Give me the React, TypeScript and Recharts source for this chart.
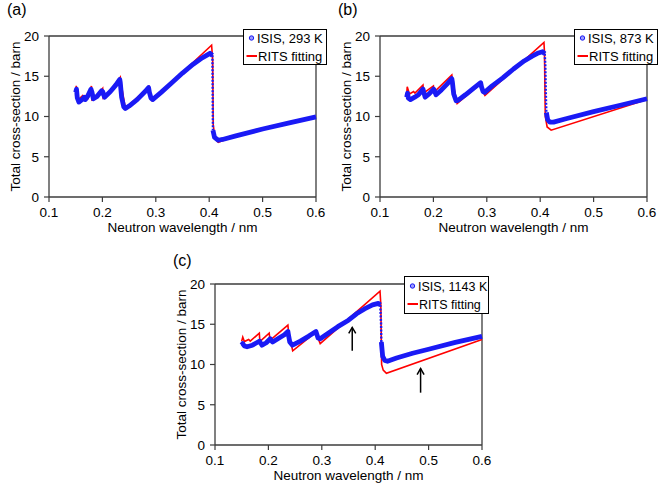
import { ComposedChart, Line, XAxis, YAxis, ReferenceLine, ReferenceDot } from 'recharts';

type Pt = [number, number];

const xTicks = [0.1, 0.2, 0.3, 0.4, 0.5, 0.6];
const yTicks = [0, 5, 10, 15, 20];
// top-left, top-right and bottom-right corners: closes the plot box
const frame: Pt[] = [[0.1, 20], [0.6, 20], [0.6, 0]];

// (a) 293 K — ISIS measurement (blue) and RITS fit (red), [wavelength nm, barn]
const isis293: Pt[] = [
  [0.15, 13.0], [0.1515, 13.4], [0.153, 12.3], [0.156, 11.8], [0.162, 12.1], [0.166, 12.4],
  [0.168, 12.1], [0.173, 12.6], [0.1785, 13.4], [0.1805, 13.0], [0.183, 12.2], [0.19, 12.5],
  [0.1985, 13.2], [0.2005, 13.1], [0.204, 12.4], [0.215, 13.1], [0.225, 13.9], [0.2325, 14.6],
  [0.2335, 14.2], [0.236, 12.4], [0.24, 11.2], [0.243, 11.0], [0.25, 11.3], [0.265, 12.1],
  [0.28, 13.1], [0.2865, 13.6], [0.288, 13.0], [0.291, 12.3], [0.294, 12.1], [0.31, 13.0],
  [0.33, 14.2], [0.35, 15.4], [0.37, 16.5], [0.385, 17.2], [0.395, 17.6], [0.4015, 17.85],
  [0.406, 17.6], [0.4065, 13.0], [0.407, 8.3], [0.41, 7.4], [0.417, 7.05], [0.425, 7.15],
  [0.45, 7.6], [0.5, 8.45], [0.55, 9.2], [0.6, 9.95],
];
const rits293: Pt[] = [
  [0.15, 12.6], [0.151, 13.8], [0.155, 12.1], [0.163, 12.6], [0.165, 12.3], [0.172, 12.8],
  [0.174, 12.4], [0.1795, 13.8], [0.1805, 12.1], [0.19, 12.6], [0.2005, 13.5], [0.2015, 12.3],
  [0.215, 13.2], [0.2335, 14.9], [0.2345, 14.3], [0.243, 11.0], [0.2875, 13.7], [0.2885, 13.0],
  [0.293, 12.0], [0.35, 15.5], [0.4045, 18.85], [0.4065, 17.0], [0.4075, 9.0], [0.411, 7.2],
  [0.417, 6.8], [0.45, 7.6], [0.5, 8.45], [0.55, 9.2], [0.6, 9.95],
];
const edge293: Pt = [0.406, 0.407];

// (b) 873 K
const isis873: Pt[] = [
  [0.15, 12.4], [0.1515, 12.9], [0.153, 12.3], [0.157, 12.1], [0.165, 12.4], [0.172, 12.7],
  [0.1805, 13.4], [0.182, 13.0], [0.1845, 12.4], [0.192, 12.8], [0.2005, 13.4], [0.202, 13.2],
  [0.205, 12.7], [0.215, 13.3], [0.225, 14.0], [0.2345, 14.7], [0.2355, 14.3], [0.238, 12.8],
  [0.2425, 11.95], [0.246, 12.0], [0.26, 12.7], [0.275, 13.5], [0.2885, 14.2], [0.29, 13.7],
  [0.293, 13.1], [0.296, 13.0], [0.31, 13.8], [0.33, 14.8], [0.35, 15.9], [0.37, 16.9],
  [0.385, 17.5], [0.395, 17.85], [0.4045, 18.05], [0.4085, 17.8], [0.4095, 16.5], [0.4105, 13.0],
  [0.4115, 10.5], [0.414, 9.6], [0.418, 9.3], [0.425, 9.3], [0.45, 9.75], [0.5, 10.6],
  [0.55, 11.4], [0.6, 12.2],
];
const rits873: Pt[] = [
  [0.15, 12.8], [0.151, 13.7], [0.155, 12.8], [0.163, 13.1], [0.1655, 12.9], [0.1805, 13.9],
  [0.1815, 12.9], [0.2, 13.8], [0.201, 13.0], [0.2345, 15.15], [0.2355, 14.5], [0.2445, 11.6],
  [0.2895, 14.15], [0.2905, 13.4], [0.2965, 12.6], [0.35, 15.8], [0.407, 19.2], [0.408, 18.0],
  [0.4095, 10.0], [0.413, 8.7], [0.4205, 8.3], [0.6, 12.1],
];
const edge873: Pt = [0.4085, 0.4115];

// (c) 1143 K
const isis1143: Pt[] = [
  [0.15, 12.4], [0.152, 12.6], [0.155, 12.3], [0.16, 12.2], [0.17, 12.4], [0.178, 12.7],
  [0.1835, 12.9], [0.185, 12.7], [0.188, 12.4], [0.196, 12.7], [0.2035, 13.2], [0.205, 13.0],
  [0.208, 12.8], [0.22, 13.3], [0.23, 13.7], [0.2365, 14.1], [0.2375, 13.7], [0.24, 12.8],
  [0.245, 12.4], [0.26, 12.9], [0.275, 13.5], [0.289, 14.1], [0.2905, 13.8], [0.293, 13.3],
  [0.297, 13.2], [0.31, 13.8], [0.33, 14.7], [0.35, 15.5], [0.365, 16.3], [0.38, 16.9],
  [0.395, 17.4], [0.406, 17.6], [0.4095, 17.4], [0.411, 15.0], [0.4115, 12.8], [0.414, 11.0],
  [0.418, 10.5], [0.423, 10.4], [0.44, 10.8], [0.47, 11.4], [0.5, 11.9], [0.55, 12.75],
  [0.6, 13.5],
];
const rits1143: Pt[] = [
  [0.15, 12.9], [0.152, 13.4], [0.155, 12.85], [0.163, 13.1], [0.166, 12.9], [0.183, 13.9],
  [0.184, 12.85], [0.2015, 13.9], [0.203, 13.0], [0.2365, 14.9], [0.2375, 14.2], [0.2455, 11.7],
  [0.2905, 14.1], [0.2915, 13.5], [0.297, 12.6], [0.409, 19.1], [0.4105, 17.5], [0.412, 10.0],
  [0.415, 9.3], [0.421, 8.9], [0.6, 13.1],
];
const edge1143: Pt = [0.4095, 0.4115];

// arrows in (c): x, tail, head
const arrowX = [0.357, 0.485];
const arrowFrom = [11.7, 6.5];
const arrowTo = [14.6, 9.5];

const AXIS = '#3c3c3c';
const BLUE = '#1a1af5';
const RED = '#ff0000';
const FS = 13.5;

const toRows = (pts: Pt[]) => pts.map(([x, y]) => ({ x, y }));

interface LegendProps {
  x: number;
  y: number;
  w: number;
  h: number;
  fs: number;
  label: string;
}

function LegendBox({ x, y, w, h, fs, label }: LegendProps) {
  const r1 = h / 2 - 8.5;
  const r2 = h / 2 + 9.5;
  return (
    <svg style={{ position: 'absolute', left: x, top: y }} width={w + 1} height={h + 1}>
      <rect x={0.5} y={0.5} width={w} height={h} fill="#fff" stroke="#000" />
      <circle cx={8.5} cy={r1} r={2.2} fill="#9a9aff" stroke={BLUE} strokeWidth={1} />
      <text x={14} y={r1 + fs * 0.36} fontSize={fs} fill="#000">{label}</text>
      <line x1={3.5} x2={14} y1={r2} y2={r2} stroke={RED} strokeWidth={2} />
      <text x={15} y={r2 + fs * 0.36} fontSize={fs} fill="#000">RITS fitting</text>
    </svg>
  );
}

const Head = (p: { cx?: number; cy?: number }) => {
  const cx = p.cx ?? 0;
  const cy = p.cy ?? 0;
  return (
    <path
      d={`M${cx - 3.5},${cy + 6}L${cx},${cy}L${cx + 3.5},${cy + 6}`}
      fill="none"
      stroke="#000"
      strokeWidth={1.5}
    />
  );
};

interface PanelProps {
  left: number;
  top: number;
  tag: string;
  tagTop: number;
  isis: Pt[];
  rits: Pt[];
  edge: Pt;
  legend: LegendProps;
  arrows?: boolean;
}

function Panel({ left, top, tag, tagTop, isis, rits, edge, legend, arrows }: PanelProps) {
  const pre = toRows(isis.filter((p) => p[0] <= edge[0]));
  const mid = toRows(isis.filter((p) => p[0] >= edge[0] && p[0] <= edge[1]));
  const post = toRows(isis.filter((p) => p[0] >= edge[1]));
  return (
    <div style={{ position: 'absolute', left, top, width: 331, height: 243 }}>
      <div style={{ position: 'absolute', left: 7, top: tagTop, fontSize: 16 }}>{tag}</div>
      <ComposedChart width={331} height={243} margin={{ top: 36, right: 15, bottom: 6, left: 5 }}>
        <XAxis
          type="number"
          dataKey="x"
          domain={[0.1, 0.6]}
          ticks={xTicks}
          tickFormatter={(v: number) => v.toFixed(1)}
          height={40}
          tickSize={5}
          tickMargin={5}
          axisLine={{ stroke: AXIS, strokeWidth: 1.3 }}
          tickLine={{ stroke: AXIS, strokeWidth: 1.2 }}
          tick={{ fill: '#000', fontSize: FS }}
          label={{ value: 'Neutron wavelength / nm', position: 'insideBottom', offset: 5, fill: '#000', fontSize: FS }}
        />
        <YAxis
          type="number"
          domain={[0, 20]}
          ticks={yTicks}
          width={44}
          tickSize={5}
          tickMargin={5}
          axisLine={{ stroke: AXIS, strokeWidth: 1.3 }}
          tickLine={{ stroke: AXIS, strokeWidth: 1.2 }}
          tick={{ fill: '#000', fontSize: FS }}
          label={{
            value: 'Total cross-section / barn',
            angle: -90,
            position: 'insideLeft',
            offset: 10,
            fill: '#000',
            fontSize: FS,
            style: { textAnchor: 'middle' },
          }}
        />
        <Line data={toRows(frame)} dataKey="y" type="linear" stroke={AXIS} strokeWidth={1.3} dot={false} isAnimationActive={false} />
        <Line data={toRows(rits)} dataKey="y" type="linear" stroke={RED} strokeWidth={1.6} dot={false} isAnimationActive={false} />
        <Line data={pre} dataKey="y" type="linear" stroke={BLUE} strokeWidth={4.8} strokeLinejoin="round" dot={false} isAnimationActive={false} />
        <Line data={mid} dataKey="y" type="linear" stroke={BLUE} strokeWidth={2.4} strokeDasharray="2 1.5" dot={false} isAnimationActive={false} />
        <Line data={post} dataKey="y" type="linear" stroke={BLUE} strokeWidth={4.8} strokeLinejoin="round" dot={false} isAnimationActive={false} />
        {arrows &&
          arrowX.map((ax, i) => (
            <ReferenceLine
              key={`l${i}`}
              segment={[{ x: ax, y: arrowFrom[i] }, { x: ax, y: arrowTo[i] }]}
              stroke="#000"
              strokeWidth={1.5}
            />
          ))}
        {arrows &&
          arrowX.map((ax, i) => <ReferenceDot key={`h${i}`} x={ax} y={arrowTo[i]} shape={Head} />)}
      </ComposedChart>
      <LegendBox {...legend} />
    </div>
  );
}

export default function App() {
  return (
    <div
      style={{
        position: 'absolute',
        left: 0,
        top: 0,
        width: 662,
        height: 491,
        background: '#fff',
        overflow: 'hidden',
        fontFamily: '"Liberation Sans", Arial, sans-serif',
        color: '#000',
      }}
    >
      <Panel
        left={0}
        top={0}
        tag="(a)"
        tagTop={1}
        isis={isis293}
        rits={rits293}
        edge={edge293}
        legend={{ x: 243, y: 29, w: 83, h: 35, fs: 13, label: 'ISIS, 293 K' }}
      />
      <Panel
        left={331}
        top={0}
        tag="(b)"
        tagTop={1}
        isis={isis873}
        rits={rits873}
        edge={edge873}
        legend={{ x: 243, y: 29, w: 83, h: 35, fs: 13, label: 'ISIS, 873 K' }}
      />
      <Panel
        left={166}
        top={248}
        tag="(c)"
        tagTop={3.5}
        isis={isis1143}
        rits={rits1143}
        edge={edge1143}
        legend={{ x: 238, y: 28, w: 84, h: 37, fs: 12.5, label: 'ISIS, 1143 K' }}
        arrows
      />
    </div>
  );
}
